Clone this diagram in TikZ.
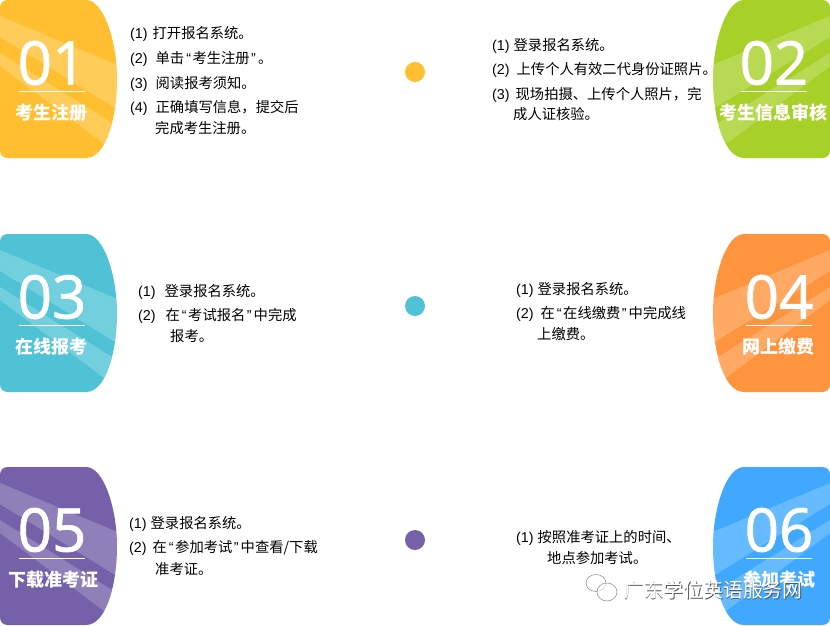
\documentclass[tikz,border=0pt]{standalone}
\usepackage{fontspec}
\setmainfont{Liberation Sans}
\newfontfamily\cjk{Noto Sans CJK SC}
\newfontfamily\numfont[FakeBold=1.3]{Open Sans}
\newcommand{\nm}[2]{{\rmfamily(#1)}\hspace{#2pt}}
\newcommand{\oq}{\hspace{2pt}{\rmfamily “}\hspace{1.5pt}}
\newcommand{\cq}{\hspace{1.5pt}{\rmfamily ”}\hspace{2pt}}
\tikzset{x=1pt,y=-1pt,
 numtext/.style={text=white,font=\numfont\fontsize{60}{60}\selectfont,anchor=center,inner sep=0},
 titletext/.style={text=white,font=\cjk\fontsize{18}{18}\selectfont\bfseries,anchor=center,inner sep=0},
 itemtext/.style={text=black,font=\cjk\fontsize{14.3}{14.3}\selectfont,anchor=west,inner sep=0},
 dotmark/.style={circle,minimum size=20,inner sep=0},
 marktext/.style={font=\cjk\fontsize{19.8}{20}\selectfont,anchor=west,inner sep=0},
 iconline/.style={draw=black!45,line width=.5,fill=white,fill opacity=.6},
}
\definecolor{cA}{HTML}{FFBF30}
\definecolor{cB}{HTML}{A7D129}
\definecolor{cC}{HTML}{4FC3D5}
\definecolor{cD}{HTML}{FF943F}
\definecolor{cE}{HTML}{7561A9}
\definecolor{cF}{HTML}{40A9FF}
% #1 top, #2 colour, #3 number, #4 title, #5 title centre x
\newcommand{\leftcard}[5]{%
 \begin{scope}[yshift=-#1pt]
  \begin{scope}
  \clip (0,8) .. controls (0,3) and (3,0) .. (8,0) -- (86,0) .. controls (104,0) and (117,42) .. (117,79) .. controls (117,118) and (106,158) .. (86,158) -- (8,158) .. controls (3,158) and (0,155) .. (0,150) -- cycle;
  \fill[#2] (0,0) rectangle (120,160);
  \fill[white,opacity=.2] (0,16) -- (120,66) -- (120,111) -- (0,37) -- cycle;
  \fill[white,opacity=.2] (0,53) -- (120,128) -- (120,156) -- (0,66) -- cycle;
  \end{scope}
  \node[numtext] (n#3) at (52,63) {#3};
  \draw[white,line width=.7] (19,91) -- (85,91);
  \node[titletext] (t#3) at (#5,113) {#4};
 \end{scope}}
% #6 number and rule centre x
\newcommand{\rightcard}[6]{%
 \begin{scope}[yshift=-#1pt]
  \begin{scope}
  \clip (830,8) .. controls (830,3) and (827,0) .. (822,0) -- (744,0) .. controls (726,0) and (713,42) .. (713,79) .. controls (713,118) and (724,158) .. (744,158) -- (822,158) .. controls (827,158) and (830,155) .. (830,150) -- cycle;
  \fill[#2] (710,0) rectangle (830,160);
  \fill[white,opacity=.2] (830,16) -- (710,66) -- (710,111) -- (830,37) -- cycle;
  \fill[white,opacity=.2] (830,53) -- (710,128) -- (710,156) -- (830,66) -- cycle;
  \end{scope}
  \node[numtext] (n#3) at (#6,63) {#3};
  \draw[white,line width=.7] (#6-33,91) -- (#6+33,91);
  \node[titletext] (t#3) at (#5,113) {#4};
 \end{scope}}
\begin{document}
\begin{tikzpicture}
\useasboundingbox (0,0) rectangle (830,625);
\fill[white] (0,0) rectangle (830,625);
\leftcard{0}{cA}{01}{考生注册}{52}
\rightcard{0}{cB}{02}{考生信息审核}{773}{774}
\leftcard{234}{cC}{03}{在线报考}{52}
\rightcard{234}{cD}{04}{网上缴费}{778}{779}
\leftcard{467}{cE}{05}{下载准考证}{54}
\rightcard{467}{cF}{06}{参加考试}{779}{779}
\node[dotmark,fill=cA] (d1) at (415,72) {};
\node[dotmark,fill=cC] (d2) at (415,306) {};
\node[dotmark,fill=cE] (d3) at (415,540) {};
\node[itemtext] (a1) at (130,34) {\nm{1}{5}打开报名系统。};
\node[itemtext] (a2) at (130,59) {\nm{2}{8}单击\oq 考生注册\cq 。};
\node[itemtext] (a3) at (130,84) {\nm{3}{8}阅读报考须知。};
\node[itemtext] (a4) at (130,108) {\nm{4}{8}正确填写信息，提交后};
\node[itemtext] (a5) at (155,128) {完成考生注册。};
\node[itemtext] (b1) at (492,46) {\nm{1}{4}登录报名系统。};
\node[itemtext] (b2) at (492,70) {\nm{2}{7}上传个人有效二代身份证照片。};
\node[itemtext] (b3) at (492,95) {\nm{3}{6}现场拍摄、上传个人照片，完};
\node[itemtext] (b4) at (513,114) {成人证核验。};
\node[itemtext] (c1) at (138,292) {\nm{1}{9}登录报名系统。};
\node[itemtext] (c2) at (138,316) {\nm{2}{10}在\oq 考试报名\cq 中完成};
\node[itemtext] (c3) at (170,336) {报考。};
\node[itemtext] (e1) at (516,290) {\nm{1}{4}登录报名系统。};
\node[itemtext] (e2) at (516,314) {\nm{2}{7}在\oq 在线缴费\cq 中完成线};
\node[itemtext] (e3) at (537,334) {上缴费。};
\node[itemtext] (f1) at (129,524) {\nm{1}{4}登录报名系统。};
\node[itemtext] (f2) at (129,548) {\nm{2}{6}在\oq 参加考试\cq 中查看/下载};
\node[itemtext] (f3) at (155,569) {准考证。};
\node[itemtext] (g1) at (516,538) {\nm{1}{4}按照准考证上的时间、};
\node[itemtext] (g2) at (547,558) {地点参加考试。};
% watermark
\path[iconline] (596,583) ellipse (10 and 8.5);
\path[iconline] (607,592) ellipse (10 and 9);
\node[marktext,text=black!65] (w1) at (624.7,590.7) {广东学位英语服务网};
\node[marktext,text=white] (w) at (624,590) {广东学位英语服务网};
\end{tikzpicture}
\end{document}
